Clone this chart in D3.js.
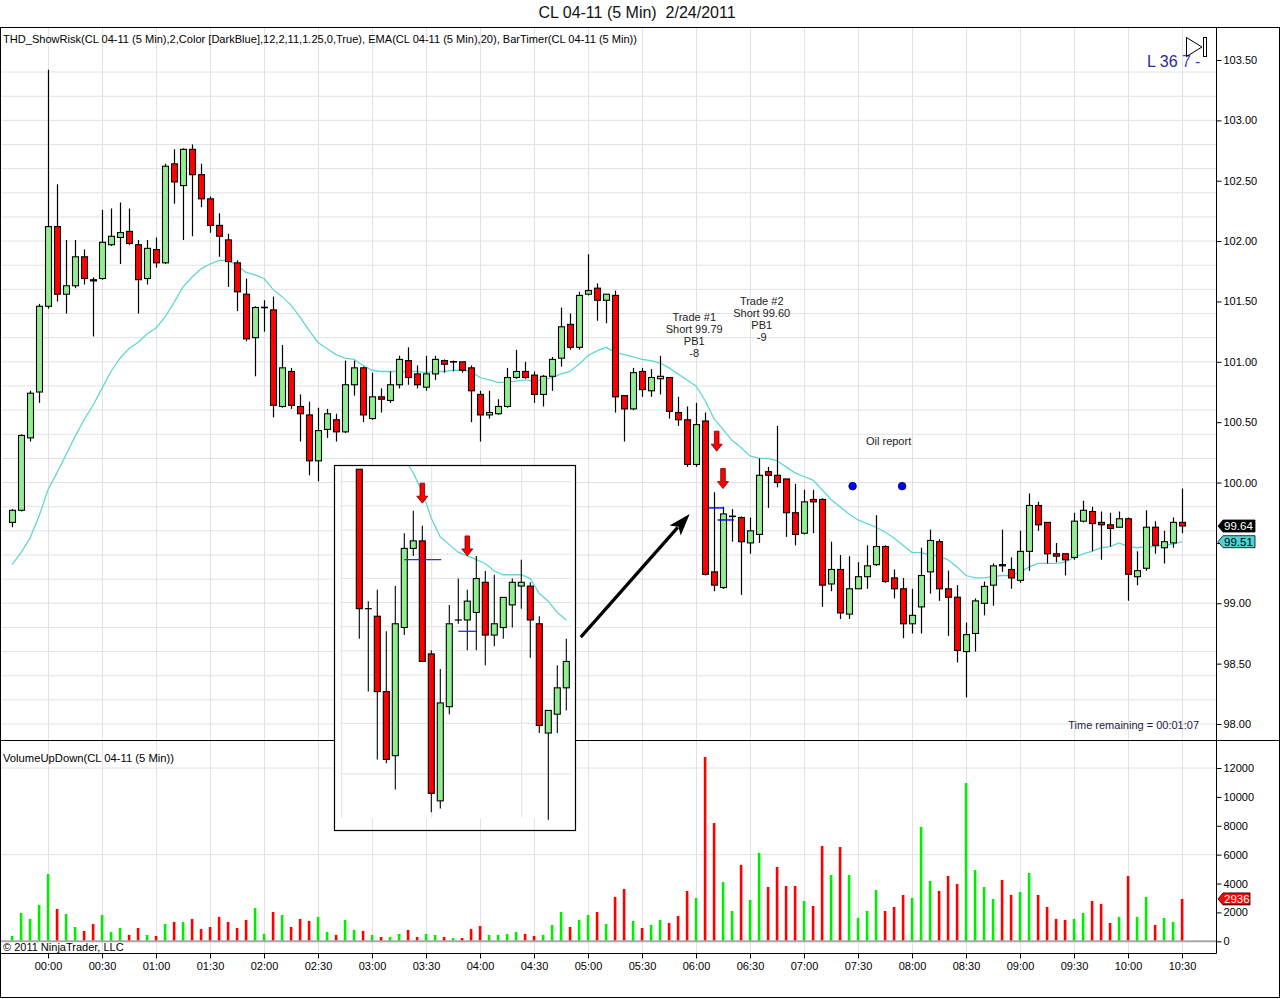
<!DOCTYPE html>
<html>
<head>
<meta charset="utf-8">
<script src="https://cdn.jsdelivr.net/npm/d3@7"></script>
<style>
  body { margin: 0; background: #fff; }
  text { font-family: "Liberation Sans", Arial, sans-serif; }
</style>
</head>
<body>
<svg id="chart" width="1280" height="999"></svg>
<script>
// CL 04-11 5 min bars, first bar 23:40 on 2/23, last 10:30 on 2/24
var firstBar = new Date(2011, 1, 23, 23, 40);
var barMs = 5 * 60 * 1000;

var open = [99.67,99.77,100.37,100.75,101.46,102.12,101.56,101.63,101.87,101.68,
  101.69,101.97,102.03,102.08,101.97,101.69,101.93,101.82,102.64,102.46,
  102.76,102.55,102.35,102.13,102.01,101.82,101.56,101.20,101.45,101.43,
  100.63,100.92,100.63,100.56,100.18,100.44,100.52,100.42,100.81,100.95,
  100.53,100.71,100.68,100.81,101.01,100.90,100.79,100.90,101.01,101.00,
  101.00,100.95,100.73,100.56,100.57,100.63,100.87,100.92,100.89,100.73,
  100.88,101.03,101.31,101.12,101.56,101.61,101.51,101.55,100.72,100.61,
  100.92,100.76,100.86,100.87,100.58,100.52,100.15,100.51,99.26,99.13,
  99.72,99.71,99.50,99.57,100.09,100.06,100.03,99.75,99.58,99.86,
  99.86,99.16,99.28,98.91,99.12,99.22,99.32,99.47,99.21,99.12,
  98.83,98.97,99.26,99.51,99.12,99.05,98.60,98.75,99.00,99.15,
  99.32,99.28,99.19,99.43,99.81,99.67,99.41,99.41,99.38,99.68,
  99.76,99.67,99.65,99.63,99.70,99.22,99.29,99.63,99.46,99.50,
  99.67];
var high = [99.78,100.40,100.76,101.48,103.42,102.47,102.01,102.01,101.93,101.70,
  102.26,102.27,102.32,102.27,102.01,102.01,102.03,102.64,102.76,102.77,
  102.80,102.64,102.37,102.23,102.06,101.84,101.69,101.46,101.51,101.54,
  101.14,100.95,100.73,100.67,100.62,100.61,100.57,101.01,101.01,100.96,
  100.91,100.78,100.92,101.05,101.12,100.97,101.05,101.05,101.02,101.01,
  101.00,100.97,100.76,100.76,100.69,100.95,101.10,101.00,100.92,100.89,
  101.04,101.45,101.40,101.58,101.89,101.65,101.56,101.59,100.72,100.95,
  100.95,100.94,101.05,100.87,100.71,100.63,100.66,100.58,99.92,99.80,
  99.78,99.72,99.71,100.20,100.13,100.47,100.03,99.99,99.94,99.94,
  99.87,99.51,99.40,99.39,99.34,99.48,99.73,99.48,99.28,99.21,
  99.12,99.46,99.61,99.53,99.27,99.15,98.84,99.04,99.18,99.33,
  99.61,99.38,99.60,99.91,99.84,99.67,99.50,99.41,99.75,99.85,
  99.80,99.76,99.75,99.76,99.71,99.43,99.77,99.68,99.60,99.71,
  99.95];
var low = [99.63,99.76,100.34,100.66,101.44,101.50,101.40,101.61,101.64,101.21,
  101.68,101.96,101.81,101.97,101.40,101.64,101.78,101.81,102.31,102.01,
  102.04,102.28,102.07,101.87,101.62,101.42,101.17,100.88,101.25,100.54,
  100.62,100.61,100.34,100.06,100.01,100.37,100.34,100.41,100.72,100.50,
  100.52,100.58,100.66,100.78,100.81,100.78,100.76,100.85,100.91,100.92,
  100.91,100.50,100.34,100.53,100.56,100.62,100.86,100.86,100.66,100.63,
  100.76,100.96,101.10,101.10,101.55,101.34,101.32,100.58,100.34,100.60,
  100.71,100.71,100.73,100.53,100.47,100.13,100.13,99.23,99.10,99.12,
  99.51,99.07,99.41,99.50,99.79,99.96,99.55,99.48,99.57,99.58,
  98.97,99.10,98.87,98.87,99.12,99.12,99.31,99.17,99.04,98.71,
  98.75,98.75,99.08,99.02,98.73,98.51,98.22,98.60,98.90,98.98,
  99.26,99.12,99.17,99.27,99.60,99.33,99.34,99.23,99.36,99.67,
  99.43,99.36,99.47,99.63,99.02,99.15,99.27,99.41,99.33,99.46,
  99.58];
var close = [99.77,100.39,100.74,101.46,102.12,101.56,101.63,101.87,101.69,101.67,
  101.99,102.04,102.07,101.98,101.68,101.94,101.82,102.62,102.49,102.76,
  102.55,102.35,102.13,102.04,101.83,101.58,101.19,101.45,101.45,100.64,
  100.95,100.64,100.57,100.18,100.43,100.57,100.42,100.81,100.95,100.56,
  100.71,100.69,100.81,101.02,100.87,100.81,100.90,101.02,100.98,101.00,
  100.93,100.76,100.56,100.58,100.63,100.87,100.92,100.87,100.73,100.88,
  101.02,101.29,101.12,101.55,101.59,101.51,101.56,100.71,100.61,100.91,
  100.77,100.87,100.88,100.59,100.52,100.15,100.48,99.24,99.15,99.74,
  99.72,99.51,99.60,100.06,100.06,100.00,99.75,99.57,99.84,99.84,
  99.15,99.28,98.92,99.12,99.22,99.31,99.47,99.18,99.12,98.83,
  98.90,99.23,99.52,99.12,99.05,98.61,98.74,99.02,99.14,99.31,
  99.31,99.21,99.43,99.81,99.65,99.41,99.39,99.36,99.68,99.77,
  99.66,99.65,99.62,99.70,99.24,99.27,99.63,99.48,99.51,99.67,
  99.64];
var volume = [370,1960,1550,2520,4660,2240,1890,990,720,1200,
  1820,650,920,440,920,440,370,1200,1340,1340,
  1550,850,990,1690,1340,920,1480,2310,510,2030,
  1820,990,1550,1410,1690,650,440,1480,790,720,
  440,300,300,510,790,300,510,440,300,230,
  230,850,1060,440,440,510,650,510,370,440,
  1130,2030,990,1480,1820,2030,1200,3070,3620,1410,
  920,1130,1480,1270,1750,3490,3000,12760,8190,4110,
  2100,5290,2860,6120,3760,5150,3830,3830,2790,2450,
  6600,4590,6530,4590,1620,2100,3550,2100,2380,3210,
  3000,7920,4180,3490,4520,3970,10960,4940,3760,2930,
  4250,3210,3420,4730,3210,2380,1550,1480,1550,1960,
  2790,2590,1270,1690,4520,1690,3070,1130,1620,1340,
  2936];
var ema = [99.32,99.42,99.54,99.72,99.94,100.08,100.23,100.38,100.52,100.64,
  100.78,100.92,101.03,101.11,101.16,101.23,101.28,101.37,101.49,101.62,
  101.70,101.77,101.81,101.84,101.84,101.80,101.74,101.72,101.69,101.60,
  101.54,101.47,101.37,101.26,101.16,101.11,101.06,101.03,101.02,100.97,
  100.93,100.92,100.92,100.92,100.92,100.92,100.91,100.92,100.92,100.93,
  100.93,100.92,100.87,100.85,100.83,100.83,100.84,100.85,100.84,100.85,
  100.87,100.90,100.92,100.98,101.05,101.09,101.12,101.08,101.06,101.04,
  101.02,101.01,100.99,100.95,100.90,100.85,100.80,100.68,100.53,100.44,
  100.35,100.29,100.22,100.20,100.20,100.18,100.13,100.08,100.05,100.02,
  99.94,99.86,99.80,99.74,99.69,99.66,99.63,99.59,99.54,99.48,
  99.42,99.42,99.40,99.39,99.36,99.30,99.23,99.21,99.21,99.22,
  99.23,99.23,99.26,99.30,99.33,99.33,99.33,99.34,99.38,99.41,
  99.43,99.46,99.47,99.50,99.47,99.46,99.47,99.47,99.48,99.49,
  99.51];

var priceTicks = [98, 98.5, 99, 99.5, 100, 100.5, 101, 101.5, 102, 102.5, 103, 103.5];
var volumeTicks = [0, 2000, 4000, 6000, 8000, 10000, 12000];
var volumeGrid = [6000, 12000];

// drawn-on annotations (bar index counted from the first bar, price)
var sellArrows = [{ idx: 78.3, price: 100.26 }, { idx: 79, price: 99.95 }];
var entryLines = [{ from: 77.4, to: 79.1, price: 99.79 }, { from: 78.4, to: 80.2, price: 99.69 }];
var dots = [{ idx: 93.4, price: 99.97 }, { idx: 98.9, price: 99.97 }];
var notes = [
  { idx: 75.8, price: 101.37, lines: ["Trade #1", "Short 99.79", "PB1", "-8"] },
  { idx: 83.3, price: 101.50, lines: ["Trade #2", "Short 99.60", "PB1", "-9"] },
  { idx: 97.4, price: 100.34, lines: ["Oil report"] }
];
var bigArrow = { fromIdx: 63.2, fromPrice: 98.72, toIdx: 75.3, toPrice: 99.74 };

// pasted zoom picture (its own bars)
var insetOpen = [100.03,99.66,99.64,99.44,99.27,99.61,99.82,99.84,99.54,99.15,99.40,99.63,
  99.63,99.65,99.73,99.59,99.61,99.67,99.72,99.72,99.62,99.33,99.38,99.45];
var insetHigh = [100.03,99.68,99.71,99.60,99.72,99.86,99.92,99.88,99.55,99.50,99.67,99.74,
  99.71,99.80,99.76,99.75,99.69,99.74,99.79,99.73,99.64,99.39,99.51,99.58];
var insetLow = [99.58,99.44,99.26,99.25,99.18,99.59,99.80,99.52,99.12,99.13,99.38,99.62,
  99.55,99.55,99.51,99.56,99.58,99.61,99.66,99.53,99.33,99.10,99.33,99.39];
var insetClose = [99.66,99.66,99.44,99.26,99.62,99.82,99.84,99.52,99.17,99.41,99.62,99.63,
  99.68,99.74,99.59,99.62,99.69,99.73,99.73,99.63,99.35,99.39,99.45,99.52];
var insetEma = [null,null,null,null,null,100.06,100.02,99.97,99.90,99.85,99.83,99.81,
  99.80,99.79,99.78,99.76,99.75,99.75,99.75,99.74,99.70,99.68,99.65,99.63];
var insetArrows = [{ k: 7, price: 99.94 }, { k: 12, price: 99.80 }];
var insetLines = [{ from: 5, to: 9.1, price: 99.79 }, { from: 11, to: 12.96, price: 99.60 }];

var svg = d3.select("#chart");
var at = function(idx) { return new Date(+firstBar + idx * barMs); };

var x = d3.scaleTime()
  .domain([new Date(2011, 1, 24, 0, 0), new Date(2011, 1, 24, 10, 30)])
  .range([48, 1182]);
var y = d3.scaleLinear().domain([98, 103.5]).range([724, 60]);
var yv = d3.scaleLinear().domain([0, 12000]).range([941.3, 768]);

var right = 1216.5;
var gridColor = "#e2e2e2";

var defs = svg.append("defs");
defs.append("clipPath").attr("id", "pclip").append("rect")
  .attr("x", 1).attr("y", 28).attr("width", right - 1).attr("height", 712);
defs.append("clipPath").attr("id", "iclip").append("rect")
  .attr("x", 335).attr("y", 466).attr("width", 240).attr("height", 364);

// grid
var timeTicks = x.ticks(d3.timeMinute.every(30));
svg.append("g").selectAll("line").data(timeTicks).enter().append("line")
  .attr("x1", function(d) { return Math.round(x(d)) + 0.5; })
  .attr("x2", function(d) { return Math.round(x(d)) + 0.5; })
  .attr("y1", 28).attr("y2", 953)
  .attr("stroke", gridColor);
svg.append("g").selectAll("line").data(d3.range(28).map(function(k) { return 98 + k * 0.2; }))
  .enter().append("line")
  .attr("x1", 1).attr("x2", right)
  .attr("y1", function(d) { return y(d); })
  .attr("y2", function(d) { return y(d); })
  .attr("stroke", gridColor);
svg.append("g").selectAll("line").data(volumeGrid).enter().append("line")
  .attr("x1", 1).attr("x2", right)
  .attr("y1", function(d) { return yv(d); })
  .attr("y2", function(d) { return yv(d); })
  .attr("stroke", gridColor);

// ema
var price = svg.append("g").attr("clip-path", "url(#pclip)");
price.append("path")
  .datum(ema)
  .attr("fill", "none")
  .attr("stroke", "#62d6d6")
  .attr("stroke-width", 1.3)
  .attr("d", d3.line()
    .x(function(d, i) { return x(at(i)); })
    .y(function(d) { return y(d); }));

// candles
var bars = price.selectAll("g.bar").data(open).enter().append("g").attr("class", "bar");
bars.append("line")
  .attr("x1", function(d, i) { return Math.round(x(at(i))) + 0.5; })
  .attr("x2", function(d, i) { return Math.round(x(at(i))) + 0.5; })
  .attr("y1", function(d, i) { return y(high[i]); })
  .attr("y2", function(d, i) { return y(low[i]); })
  .attr("stroke", "#000").attr("stroke-width", 1.2);
bars.each(function(o, i) {
  var g = d3.select(this);
  var cx = Math.round(x(at(i))) + 0.5;
  var c = close[i];
  if (Math.abs(c - o) < 0.005) {
    g.append("line").attr("x1", cx - 3.5).attr("x2", cx + 3.5)
      .attr("y1", y(o)).attr("y2", y(o))
      .attr("stroke", "#000").attr("stroke-width", 1.6);
  } else {
    var top = y(Math.max(o, c)), bot = y(Math.min(o, c));
    g.append("rect").attr("x", cx - 3).attr("width", 6)
      .attr("y", top).attr("height", Math.max(1, bot - top))
      .attr("fill", c >= o ? "#90ee90" : "#ff0000")
      .attr("stroke", "#000").attr("stroke-width", 1.1);
  }
});

// volume
svg.append("g").selectAll("rect").data(volume).enter().append("rect")
  .attr("x", function(d, i) { return x(at(i)) - 1.2; })
  .attr("width", 2.6)
  .attr("y", function(d) { return yv(d); })
  .attr("height", function(d) { return yv(0) - yv(d); })
  .attr("fill", function(d, i) { return close[i] >= open[i] ? "#00ee00" : "#ff0000"; });
svg.append("line").attr("x1", 1).attr("x2", right)
  .attr("y1", yv(0)).attr("y2", yv(0))
  .attr("stroke", "#a8a8a8").attr("stroke-width", 2);

// markers
function downArrow(g, cx, tip, fill) {
  var p = d3.path();
  p.moveTo(cx - 2.3, tip - 20);
  p.lineTo(cx + 2.3, tip - 20);
  p.lineTo(cx + 2.3, tip - 7);
  p.lineTo(cx + 5.5, tip - 7);
  p.lineTo(cx, tip);
  p.lineTo(cx - 5.5, tip - 7);
  p.lineTo(cx - 2.3, tip - 7);
  p.closePath();
  g.append("path").attr("d", p.toString()).attr("fill", fill)
    .attr("stroke", "#6a0000").attr("stroke-width", 0.8);
}
sellArrows.forEach(function(a) { downArrow(price, x(at(a.idx)), y(a.price), "#ff0000"); });
price.selectAll("line.entry").data(entryLines).enter().append("line")
  .attr("x1", function(d) { return x(at(d.from)); })
  .attr("x2", function(d) { return x(at(d.to)); })
  .attr("y1", function(d) { return y(d.price); })
  .attr("y2", function(d) { return y(d.price); })
  .attr("stroke", "#0000ff").attr("stroke-width", 1.4);
price.selectAll("circle").data(dots).enter().append("circle")
  .attr("cx", function(d) { return x(at(d.idx)); })
  .attr("cy", function(d) { return y(d.price); })
  .attr("r", 3.8)
  .attr("fill", "#0000ff").attr("stroke", "#000066").attr("stroke-width", 0.8);
notes.forEach(function(n) {
  var t = price.append("text")
    .attr("text-anchor", "middle").attr("font-size", 11).attr("fill", "#222");
  n.lines.forEach(function(s, j) {
    t.append("tspan").attr("x", x(at(n.idx))).attr("y", y(n.price) + 4 + j * 12).text(s);
  });
});

// frame lines
svg.append("line").attr("x1", 0).attr("x2", 1280).attr("y1", 27.5).attr("y2", 27.5).attr("stroke", "#000");
svg.append("line").attr("x1", 0).attr("x2", 1280).attr("y1", 740.5).attr("y2", 740.5).attr("stroke", "#000");
svg.append("line").attr("x1", 0).attr("x2", right).attr("y1", 953.5).attr("y2", 953.5).attr("stroke", "#000");
svg.append("line").attr("x1", 0).attr("x2", 1280).attr("y1", 997.5).attr("y2", 997.5).attr("stroke", "#000");
svg.append("line").attr("x1", 0.5).attr("x2", 0.5).attr("y1", 27.5).attr("y2", 998).attr("stroke", "#000");
svg.append("line").attr("x1", 1279.5).attr("x2", 1279.5).attr("y1", 27.5).attr("y2", 998).attr("stroke", "#000");
svg.append("line").attr("x1", right).attr("x2", right).attr("y1", 27.5).attr("y2", 953.5).attr("stroke", "#000");

// axes
function styleAxis(g) {
  g.attr("font-family", "Liberation Sans, Arial, sans-serif").attr("font-size", 11);
  g.select(".domain").remove();
}
svg.append("g").attr("transform", "translate(" + right + ",0)")
  .call(d3.axisRight(y).tickValues(priceTicks).tickFormat(d3.format(".2f")).tickSize(5).tickPadding(2))
  .call(styleAxis);
svg.append("g").attr("transform", "translate(" + right + ",0)")
  .call(d3.axisRight(yv).tickValues(volumeTicks).tickFormat(d3.format("d")).tickSize(5).tickPadding(2))
  .call(styleAxis);
svg.append("g").attr("transform", "translate(0,953.5)")
  .call(d3.axisBottom(x).ticks(d3.timeMinute.every(30)).tickFormat(d3.timeFormat("%H:%M")).tickSize(5).tickPadding(4))
  .call(styleAxis);

// value flags on the axis
function flag(cy, txt, fill, color, w) {
  var g = svg.append("g");
  g.append("path")
    .attr("d", "M" + (right + 1.5) + "," + cy + "L" + (right + 6.5) + "," + (cy - 6) +
      "L" + (right + 6.5 + w) + "," + (cy - 6) + "L" + (right + 6.5 + w) + "," + (cy + 6) +
      "L" + (right + 6.5) + "," + (cy + 6) + "Z")
    .attr("fill", fill).attr("stroke", "#000").attr("stroke-width", 0.8);
  g.append("text").attr("x", right + 7.5).attr("y", cy + 4)
    .attr("font-size", 11.5).attr("fill", color).text(txt);
}
var last = close.length - 1;
flag(y(close[last]), d3.format(".2f")(close[last]), "#000", "#fff", 32);
flag(y(ema[last]), d3.format(".2f")(ema[last]), "#4fd3d3", "#000", 32);
flag(yv(volume[last]), String(volume[last]), "#ff0000", "#fff", 27);

// texts
svg.append("text").attr("x", 637).attr("y", 18).attr("text-anchor", "middle")
  .attr("font-size", 16).attr("fill", "#111").text("CL 04-11 (5 Min)\u00a0\u00a02/24/2011");
svg.append("text").attr("x", 3).attr("y", 43).attr("font-size", 11)
  .attr("textLength", 634).attr("lengthAdjust", "spacingAndGlyphs")
  .text("THD_ShowRisk(CL 04-11 (5 Min),2,Color [DarkBlue],12,2,11,1.25,0,True), EMA(CL 04-11 (5 Min),20), BarTimer(CL 04-11 (5 Min))");
svg.append("text").attr("x", 3).attr("y", 762).attr("font-size", 11)
  .attr("textLength", 171).attr("lengthAdjust", "spacingAndGlyphs")
  .text("VolumeUpDown(CL 04-11 (5 Min))");
svg.append("text").attr("x", 3).attr("y", 951).attr("font-size", 11)
  .text("\u00a9 2011 NinjaTrader, LLC");
svg.append("text").attr("x", 1199).attr("y", 729).attr("text-anchor", "end")
  .attr("font-size", 11).attr("fill", "#1c1c48").text("Time remaining = 00:01:07");
var lt = svg.append("text").attr("x", 1147).attr("y", 67).attr("font-size", 16);
lt.append("tspan").attr("fill", "#2a2aa0").text("L 36 ");
lt.append("tspan").attr("fill", "#3d3de8").text("7");
lt.append("tspan").attr("fill", "#3d3de8").attr("dx", 4).text("-");
svg.append("path").attr("d", "M1186.5,37.5L1186.5,56.5L1202,47Z")
  .attr("fill", "none").attr("stroke", "#000").attr("stroke-width", 1);
svg.append("rect").attr("x", 1203.5).attr("y", 37.5).attr("width", 3).attr("height", 19)
  .attr("fill", "#fff").attr("stroke", "#000").attr("stroke-width", 1);

// inset picture
var ix = d3.scaleLinear().domain([0, 23]).range([359.3, 566.3]);
var iy = d3.scaleLinear().domain([99.60, 99.79]).range([631.3, 559.7]);
svg.append("rect").attr("x", 334.5).attr("y", 465.5).attr("width", 241).attr("height", 353)
  .attr("fill", "#fff");
var inset = svg.append("g").attr("clip-path", "url(#iclip)");
inset.selectAll("line.hg").data(d3.range(11).map(function(k) { return 481.7 + k * 24.16; }).concat([774]))
  .enter().append("line")
  .attr("x1", 340).attr("x2", 572).attr("y1", function(d) { return d; }).attr("y2", function(d) { return d; })
  .attr("stroke", gridColor);
inset.selectAll("line.vg").data([341.7, 431.7, 521.7]).enter().append("line")
  .attr("x1", function(d) { return d; }).attr("x2", function(d) { return d; })
  .attr("y1", 466).attr("y2", 818).attr("stroke", gridColor);
inset.append("path")
  .datum(insetEma)
  .attr("fill", "none").attr("stroke", "#62d6d6").attr("stroke-width", 1.3)
  .attr("d", d3.line().defined(function(d) { return d !== null; })
    .x(function(d, k) { return ix(k); }).y(function(d) { return iy(d); }));
var ibars = inset.selectAll("g.ibar").data(insetOpen).enter().append("g");
ibars.append("line")
  .attr("x1", function(d, k) { return ix(k); }).attr("x2", function(d, k) { return ix(k); })
  .attr("y1", function(d, k) { return iy(insetHigh[k]); })
  .attr("y2", function(d, k) { return iy(insetLow[k]); })
  .attr("stroke", "#000").attr("stroke-width", 1.1);
ibars.each(function(o, k) {
  var g = d3.select(this), c = insetClose[k], cx = ix(k);
  if (Math.abs(c - o) < 0.005) {
    g.append("line").attr("x1", cx - 3.5).attr("x2", cx + 3.5)
      .attr("y1", iy(o)).attr("y2", iy(o)).attr("stroke", "#000").attr("stroke-width", 1.2);
  } else {
    var top = iy(Math.max(o, c)), bot = iy(Math.min(o, c));
    g.append("rect").attr("x", cx - 3).attr("width", 6)
      .attr("y", top).attr("height", Math.max(1, bot - top))
      .attr("fill", c >= o ? "#90ee90" : "#ff0000")
      .attr("stroke", "#000").attr("stroke-width", 1.1);
  }
});
inset.selectAll("line.il").data(insetLines).enter().append("line")
  .attr("x1", function(d) { return ix(d.from); }).attr("x2", function(d) { return ix(d.to); })
  .attr("y1", function(d) { return iy(d.price); }).attr("y2", function(d) { return iy(d.price); })
  .attr("stroke", "#2233ee").attr("stroke-width", 1.3);
insetArrows.forEach(function(a) { downArrow(inset, ix(a.k), iy(a.price), "#ff0000"); });
svg.append("rect").attr("x", 334.5).attr("y", 465.5).attr("width", 241).attr("height", 365)
  .attr("fill", "none").attr("stroke", "#000").attr("stroke-width", 1.2);

// pointer arrow from the inset to the trade
var ax1 = x(at(bigArrow.fromIdx)), ay1 = y(bigArrow.fromPrice);
var ax2 = x(at(bigArrow.toIdx)), ay2 = y(bigArrow.toPrice);
var ang = Math.atan2(ay2 - ay1, ax2 - ax1);
var hl = 22, hw = 7.5;
var bx = ax2 - hl * Math.cos(ang), by = ay2 - hl * Math.sin(ang);
svg.append("line").attr("x1", ax1).attr("y1", ay1)
  .attr("x2", bx + 4 * Math.cos(ang)).attr("y2", by + 4 * Math.sin(ang))
  .attr("stroke", "#000").attr("stroke-width", 3.2);
svg.append("path")
  .attr("d", "M" + ax2 + "," + ay2 +
    "L" + (bx - hw * Math.sin(ang)) + "," + (by + hw * Math.cos(ang)) +
    "L" + (bx + 5 * Math.cos(ang)) + "," + (by + 5 * Math.sin(ang)) +
    "L" + (bx + hw * Math.sin(ang)) + "," + (by - hw * Math.cos(ang)) + "Z")
  .attr("fill", "#000");
</script>
</body>
</html>
